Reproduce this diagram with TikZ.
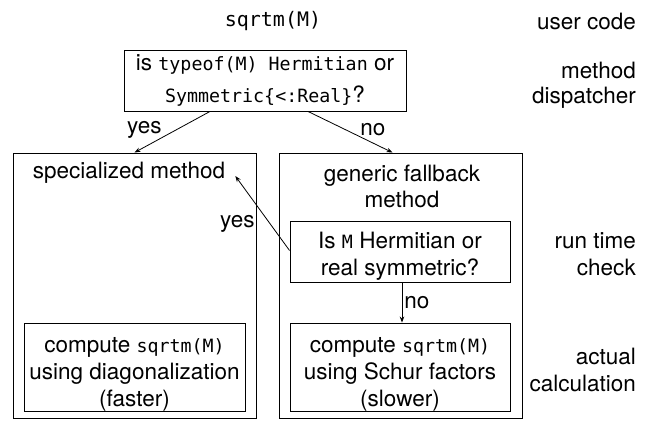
\documentclass[tikz,border=0pt]{standalone}
\usepackage{fontspec}
\setmainfont{TeX Gyre Heros}
\newfontfamily\monofam{DejaVu Sans Mono}
\newcommand\mcode[1]{{\fontsize{18.3}{27}\monofam #1}}
\newcommand\mcodeL[1]{{\fontsize{20}{27}\monofam #1}}
\newcommand\dn[1]{\rule{0pt}{#1}}
\usetikzlibrary{arrows.meta}
\begin{document}
\begin{tikzpicture}[x=1pt,y=-1pt,
  font=\fontsize{22.5}{27}\selectfont,
  box/.style={draw, line width=0.9pt, inner sep=0pt, align=center},
  arr/.style={-{Stealth[length=6pt,width=4.5pt]}, line width=0.8pt},
  lbl/.style={inner sep=0pt, align=right, anchor=east},
  plain/.style={inner sep=0pt, align=center}]
\useasboundingbox (0,0) rectangle (651,423);

\node[plain] (user) at (273,21) {\mcodeL{sqrtm(M)}};
\node[lbl] (luser) at (636,21) {user code};

\node[box, minimum width=282pt, minimum height=61pt] (disp) at (265,80.5)
  {is \mcode{typeof(M) Hermitian} or\\[5pt] \mcode{Symmetric\{<:Real\}}?};
\node[lbl] (ldisp) at (636,85) {method\\[-2pt]dispatcher};

\node[box, minimum width=243pt, minimum height=265pt] (lbig) at (134.5,285.5) {};
\node[box, minimum width=243pt, minimum height=265pt] (rbig) at (400.5,285.5) {};

\node[plain] (spec) at (129,173) {specialized method};
\node[plain] (gen) at (402,186) {generic fallback\\[-1pt]method};

\node[box, minimum width=220pt, minimum height=61pt] (chk) at (400,251.5)
  {\dn{25pt}Is \mcode{M} Hermitian or\\real symmetric?};
\node[lbl] (lchk) at (636,254) {run time\\check};

\node[box, minimum width=221pt, minimum height=88pt] (lcal) at (134.5,367)
  {\dn{29pt}compute \mcode{sqrtm(M)}\\using diagonalization\\(faster)};
\node[box, minimum width=220pt, minimum height=88pt] (rcal) at (400,367)
  {\dn{29pt}compute \mcode{sqrtm(M)}\\using Schur factors\\(slower)};
\node[lbl] (lcal2) at (636,370) {actual\\calculation};

\draw[arr] ([xshift=-55pt]disp.south) -- (lbig.north)
  node[pos=0.45, left=14pt, plain] (yes1) {yes};
\draw[arr] ([xshift=43pt]disp.south) -- ([xshift=-8pt]rbig.north)
  node[pos=0.45, right=14pt, plain] (no1) {no};
\draw[arr] ([yshift=1pt]chk.west) -- ([xshift=10pt,yshift=-3pt]spec.east)
  node[pos=0.36, left=15pt, plain] (yes2) {yes};
\draw[arr] ([xshift=2pt]chk.south) -- ([xshift=2pt]rcal.north)
  node[midway, right=2pt, plain] (no2) {no};
\end{tikzpicture}
\end{document}
